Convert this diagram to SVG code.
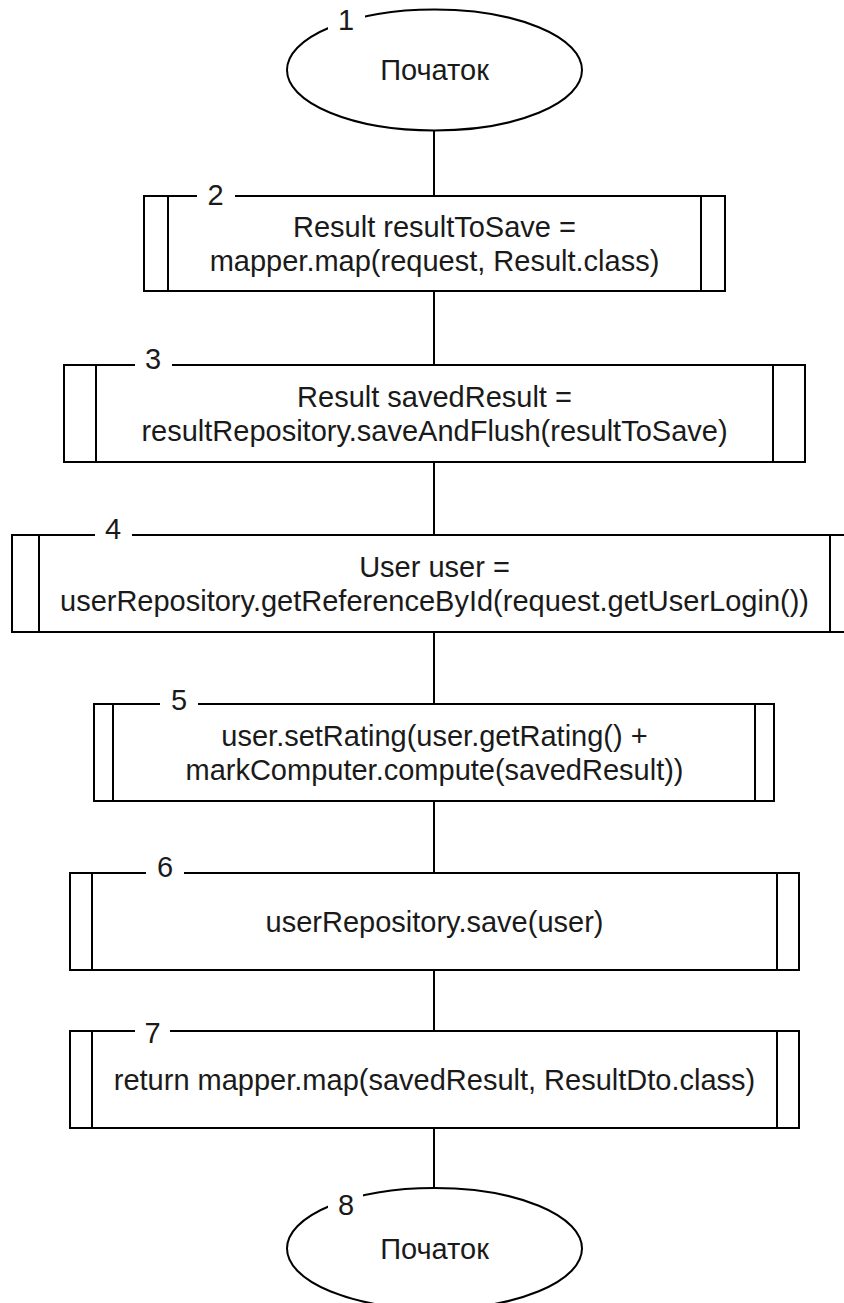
<svg xmlns="http://www.w3.org/2000/svg" width="844" height="1303" viewBox="0 0 844 1303">
<style>
.shape{fill:#fff;stroke:#000;stroke-width:2}
.line{fill:none;stroke:#000;stroke-width:2}
.t{font-family:"Liberation Sans",Arial,sans-serif;font-size:29px;fill:#1a1a1a;text-anchor:middle}
.bg{fill:#fff;stroke:none}
</style>
<rect x="0" y="0" width="844" height="1303" fill="#fff"/>
<g id="connectors">
<line class="line" x1="434" y1="130" x2="434" y2="196"/>
<line class="line" x1="434" y1="291" x2="434" y2="365"/>
<line class="line" x1="434" y1="462" x2="434" y2="535"/>
<line class="line" x1="434" y1="632" x2="434" y2="704"/>
<line class="line" x1="434" y1="801" x2="434" y2="873"/>
<line class="line" x1="434" y1="970" x2="434" y2="1031"/>
<line class="line" x1="434" y1="1128" x2="434" y2="1188"/>
</g>
<g id="node1">
<ellipse class="shape" cx="434.5" cy="70" rx="147.5" ry="60.5"/>
<text class="t" x="434.5" y="80">Початок</text>
<rect class="bg" x="328" y="4" width="37" height="30"/>
<text class="t" x="346" y="30">1</text>
</g>
<g id="node2">
<rect class="shape" x="144" y="196" width="581" height="95"/>
<line class="line" x1="168" y1="196" x2="168" y2="291"/>
<line class="line" x1="701" y1="196" x2="701" y2="291"/>
<text class="t" x="434.5" y="236.5">Result resultToSave =</text>
<text class="t" x="434.5" y="270.5">mapper.map(request, Result.class)</text>
<rect class="bg" x="197" y="181" width="38" height="30"/>
<text class="t" x="215.5" y="205">2</text>
</g>
<g id="node3">
<rect class="shape" x="64" y="365" width="741" height="97"/>
<line class="line" x1="96" y1="365" x2="96" y2="462"/>
<line class="line" x1="773" y1="365" x2="773" y2="462"/>
<text class="t" x="434.5" y="406.5">Result savedResult =</text>
<text class="t" x="434.5" y="440.5">resultRepository.saveAndFlush(resultToSave)</text>
<rect class="bg" x="135" y="344" width="37" height="30"/>
<text class="t" x="153" y="369">3</text>
</g>
<g id="node4">
<rect class="shape" x="12" y="535" width="845" height="97"/>
<line class="line" x1="39" y1="535" x2="39" y2="632"/>
<line class="line" x1="830" y1="535" x2="830" y2="632"/>
<text class="t" x="434.5" y="576.5">User user =</text>
<text class="t" x="434.5" y="610.5">userRepository.getReferenceById(request.getUserLogin())</text>
<rect class="bg" x="95" y="514" width="37" height="30"/>
<text class="t" x="113" y="539">4</text>
</g>
<g id="node5">
<rect class="shape" x="94" y="704" width="680" height="97"/>
<line class="line" x1="113" y1="704" x2="113" y2="801"/>
<line class="line" x1="755" y1="704" x2="755" y2="801"/>
<text class="t" x="434.5" y="745.5">user.setRating(user.getRating() +</text>
<text class="t" x="434.5" y="779.5">markComputer.compute(savedResult))</text>
<rect class="bg" x="160" y="685" width="38" height="30"/>
<text class="t" x="179" y="710">5</text>
</g>
<g id="node6">
<rect class="shape" x="70" y="873" width="729" height="97"/>
<line class="line" x1="92" y1="873" x2="92" y2="970"/>
<line class="line" x1="777" y1="873" x2="777" y2="970"/>
<text class="t" x="434.5" y="931.5">userRepository.save(user)</text>
<rect class="bg" x="146" y="852" width="38" height="30"/>
<text class="t" x="165" y="877">6</text>
</g>
<g id="node7">
<rect class="shape" x="70" y="1031" width="729" height="97"/>
<line class="line" x1="92" y1="1031" x2="92" y2="1128"/>
<line class="line" x1="777" y1="1031" x2="777" y2="1128"/>
<text class="t" x="434.5" y="1089.5">return mapper.map(savedResult, ResultDto.class)</text>
<rect class="bg" x="135" y="1018" width="35" height="30"/>
<text class="t" x="152.5" y="1043">7</text>
</g>
<g id="node8">
<ellipse class="shape" cx="434.5" cy="1248.5" rx="147.5" ry="60.5"/>
<text class="t" x="434.5" y="1258.5">Початок</text>
<rect class="bg" x="328" y="1190" width="35" height="30"/>
<text class="t" x="346" y="1215">8</text>
</g>
</svg>
